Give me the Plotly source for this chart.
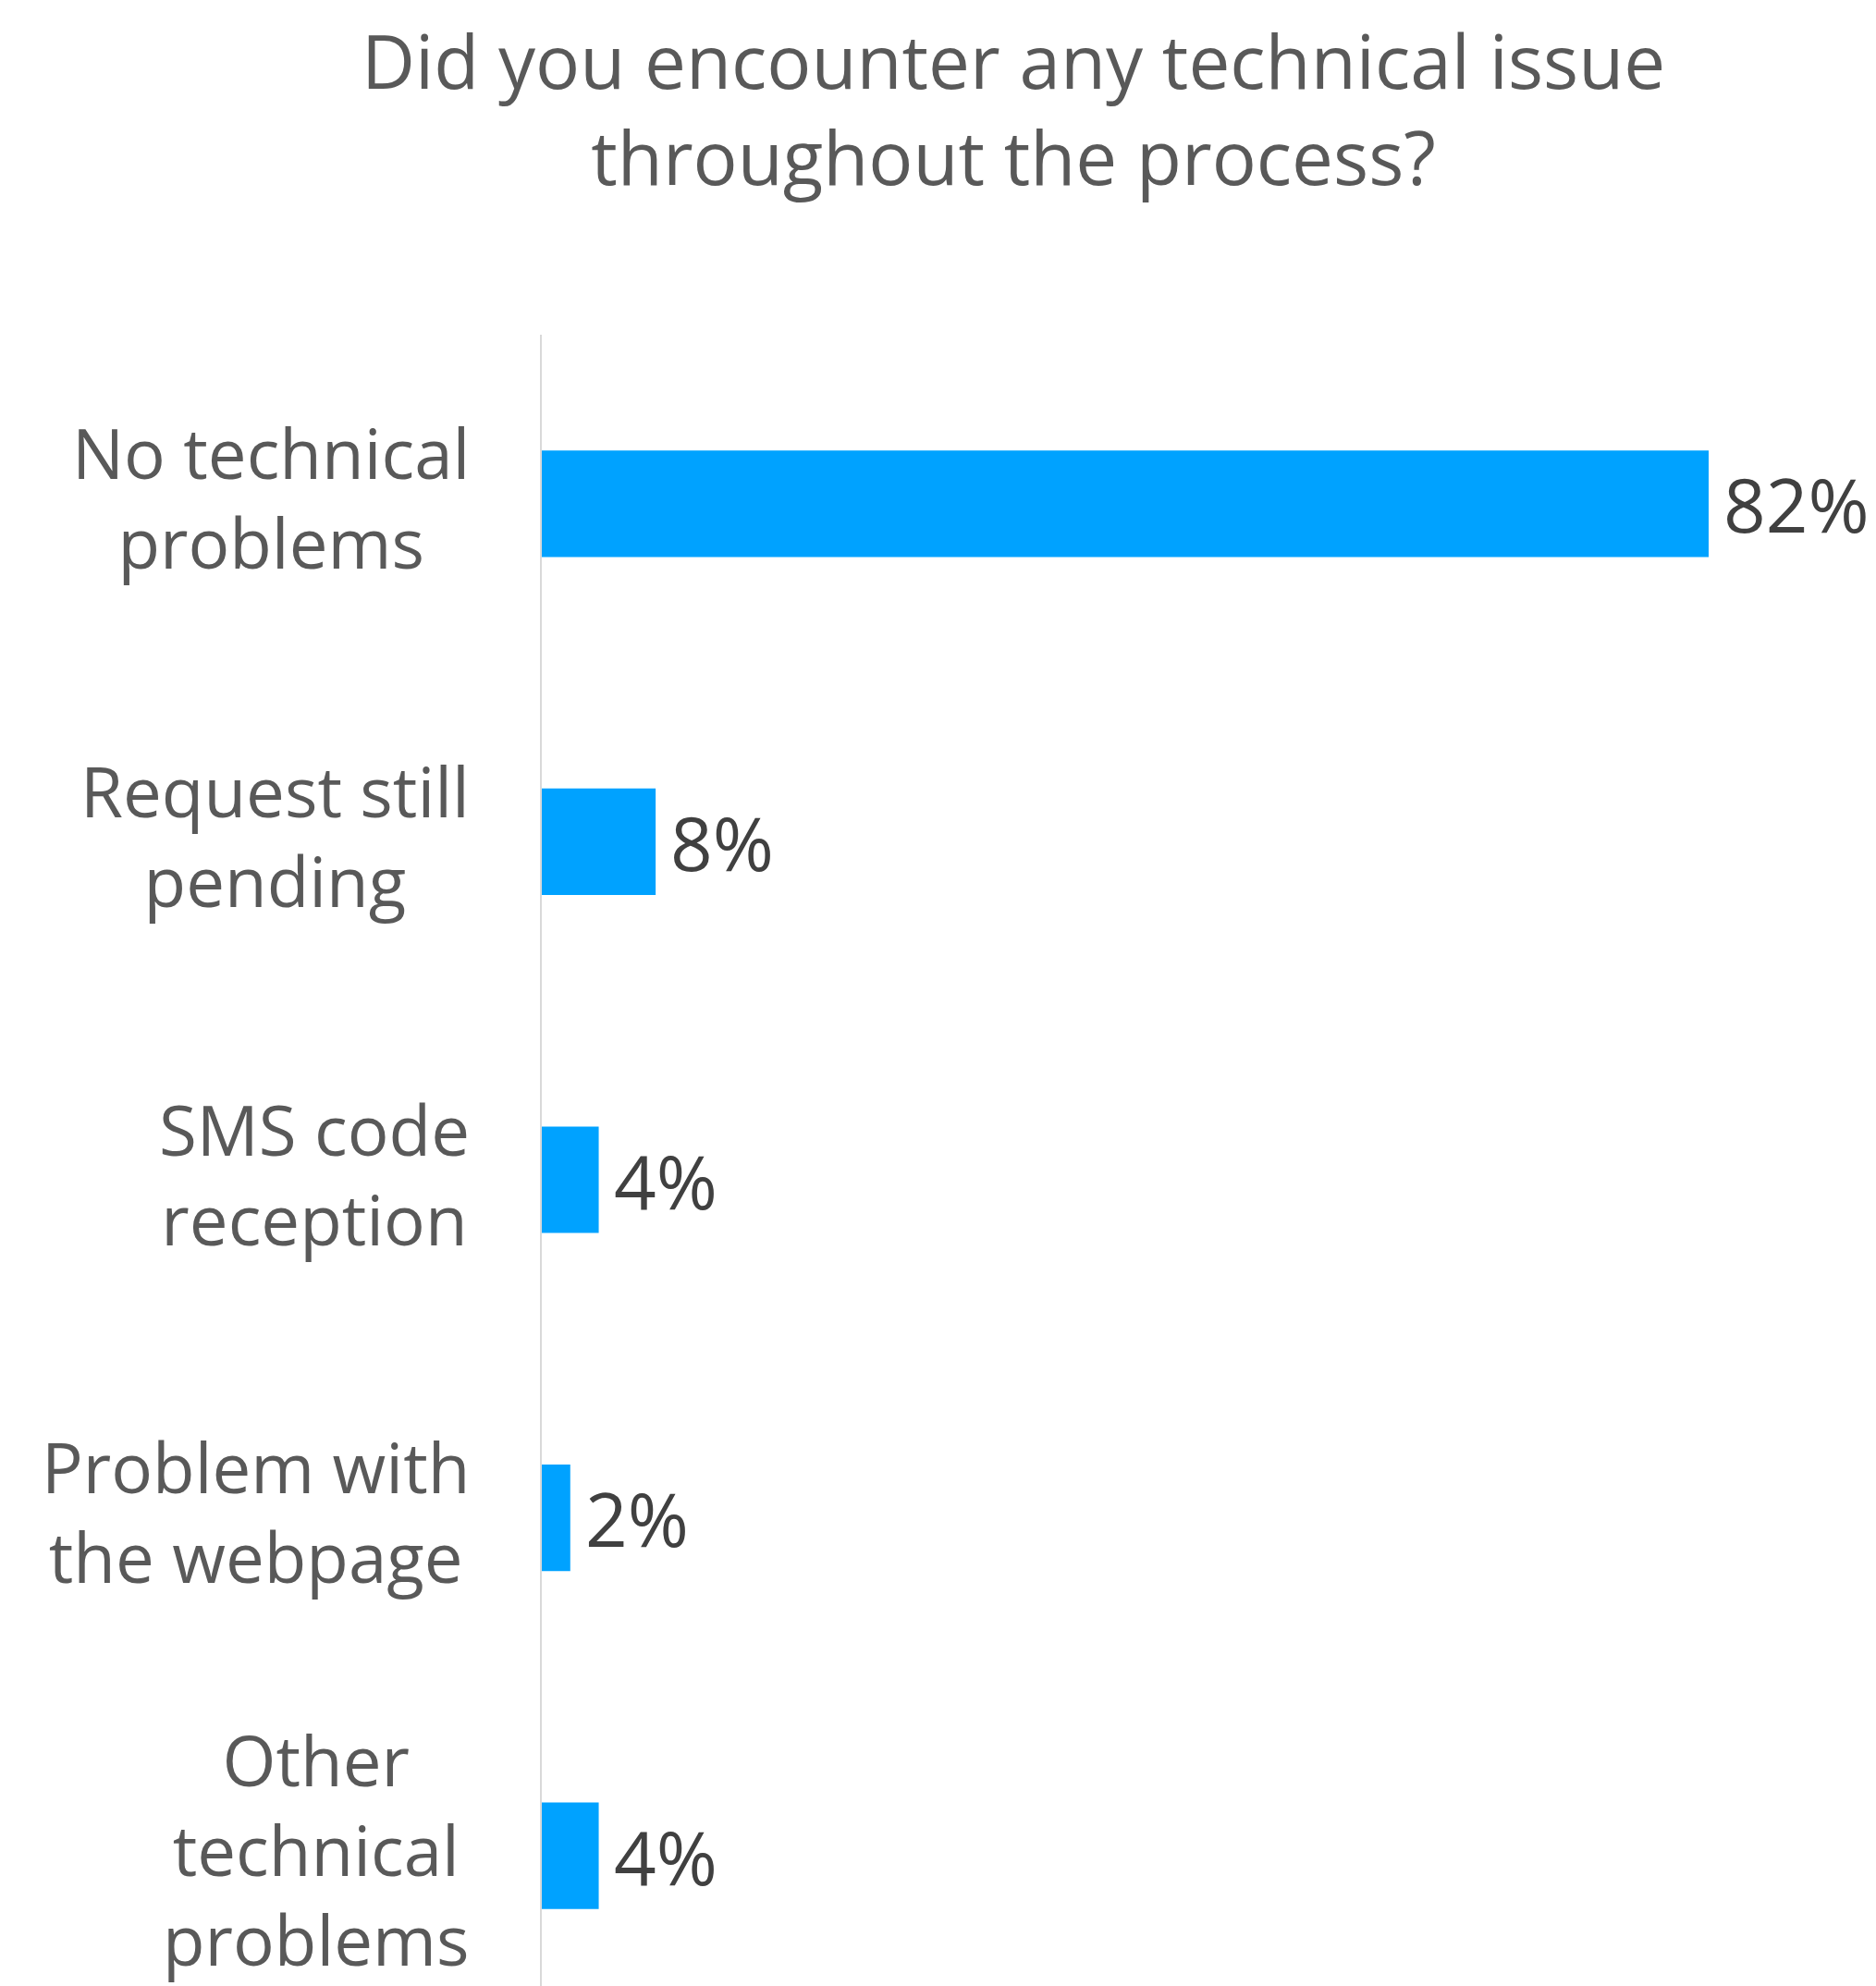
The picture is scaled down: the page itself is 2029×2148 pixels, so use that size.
import plotly.graph_objects as go

# Survey responses: share of respondents per technical issue
categories = [
    "No technical<br>problems",
    "Request still<br>pending",
    "SMS code<br>reception",
    "Problem with<br>the webpage",
    "Other<br>technical<br>problems",
]
shares = [82, 8, 4, 2, 4]
value_labels = ["82%", "8%", "4%", "2%", "4%"]
title_text = "Did you encounter any technical issue<br>throughout the process?"

BAR_COLOR = "#00A2FF"
LABEL_COLOR = "#595959"
VALUE_COLOR = "#404040"
FONT = "Open Sans"

W, H = 2029, 2148
left, top = 586, 362
px_per_unit = 1262 / 82.0
plot_w = W - left

fig = go.Figure(
    go.Bar(
        x=shares,
        y=categories,
        orientation="h",
        marker=dict(color=BAR_COLOR, line=dict(width=0)),
        hoverinfo="skip",
    )
)

# value labels to the right of each bar
for cat, val, lab in zip(categories, shares, value_labels):
    fig.add_annotation(
        x=val, y=cat, xref="x", yref="y",
        text=lab, showarrow=False,
        xanchor="left", yanchor="middle", xshift=14,
        font=dict(family=FONT, size=80, color=VALUE_COLOR),
    )

# centred multi-line category labels left of the axis
for cat in categories:
    fig.add_annotation(
        x=0, y=cat, xref="paper", yref="y",
        text=cat, showarrow=False, align="center",
        xanchor="right", yanchor="middle", xshift=-76, yshift=7,
        font=dict(family=FONT, size=74.5, color=LABEL_COLOR),
    )

# chart title, two centred lines above the plot
fig.add_annotation(
    x=(1096 - left) / plot_w, y=1, xref="paper", yref="paper",
    text=title_text, showarrow=False, align="center",
    xanchor="center", yanchor="middle", yshift=top - 116,
    font=dict(family=FONT, size=80, color=LABEL_COLOR),
)

fig.update_layout(
    width=W, height=H,
    margin=dict(l=left, r=0, t=top, b=0, pad=0),
    paper_bgcolor="white", plot_bgcolor="white",
    bargap=0.685,
    showlegend=False,
    xaxis=dict(
        range=[0, plot_w / px_per_unit],
        visible=False, fixedrange=True,
    ),
    yaxis=dict(
        type="category",
        categoryorder="array", categoryarray=categories,
        range=[-0.5 + (H - top) / 365.6, -0.5],
        showticklabels=False, showgrid=False, zeroline=False,
        showline=True, linecolor="#D9D9D9", linewidth=2,
        ticks="",
    ),
)

fig.write_html("out.html")
